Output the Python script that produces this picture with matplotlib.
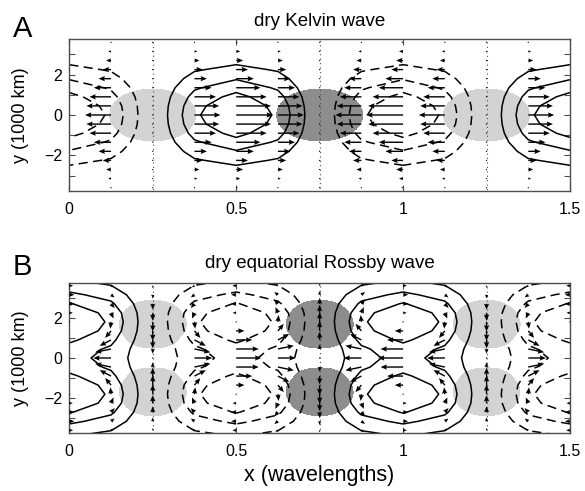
import numpy as np
import matplotlib
matplotlib.use("Agg")
import matplotlib.pyplot as plt
import matplotlib.tri as mtri

plt.rcParams["font.family"] = ["Liberation Sans", "DejaVu Sans"]

# grid nodes: x in wavelengths, y in 1000 km
x_nodes = [0, 0.125, 0.25, 0.375, 0.5, 0.625, 0.75, 0.875, 1.0, 1.125, 1.25, 1.375, 1.5]
y_nodes = [-4.05, -3.6, -3.15, -2.7, -2.25, -1.8, -1.35, -0.9, -0.45, 0,
           0.45, 0.9, 1.35, 1.8, 2.25, 2.7, 3.15, 3.6, 4.05]

# zonal phase of the wave at the x nodes
phase_cos = [1, 0.707, 0, -0.707, -1, -0.707, 0, 0.707, 1, 0.707, 0, -0.707, -1]
phase_sin = [0, 0.707, 1, 0.707, 0, -0.707, -1, -0.707, 0, 0.707, 1, 0.707, 0]

# meridional structures (one value per y node)
kelvin_p = [0.025, 0.05, 0.11, 0.19, 0.32, 0.48, 0.66, 0.83, 0.95, 1.0,
            0.95, 0.83, 0.66, 0.48, 0.32, 0.19, 0.11, 0.05, 0.025]
rossby_p = [0.21, 0.36, 0.56, 0.77, 0.94, 1.0, 0.94, 0.80, 0.65, 0.59,
            0.65, 0.80, 0.94, 1.0, 0.94, 0.77, 0.56, 0.36, 0.21]
rossby_u = [0.09, 0.15, 0.20, 0.21, 0.14, -0.04, -0.33, -0.64, -0.90, -1.0,
            -0.90, -0.64, -0.33, -0.04, 0.14, 0.21, 0.20, 0.15, 0.09]
rossby_v = [-0.12, -0.22, -0.38, -0.59, -0.80, -0.96, -0.99, -0.83, -0.47, 0,
            0.47, 0.83, 0.99, 0.96, 0.80, 0.59, 0.38, 0.22, 0.12]
rossby_div = [0.43, 0.57, 0.72, 0.86, 0.95, 1.0, 0.98, 0.91, 0.79, 0.64,
              0.79, 0.91, 0.98, 1.0, 0.95, 0.86, 0.72, 0.57, 0.43]

LIGHT = "#d3d3d3"
DARK = "#8d8d8d"


def grid_triangulation():
    X, Y = np.meshgrid(x_nodes, y_nodes)
    nx = len(x_nodes)
    tris = []
    for j in range(len(y_nodes) - 1):
        for i in range(nx - 1):
            a = j * nx + i
            tris.append([a, a + 1, a + nx + 1])
            tris.append([a, a + nx + 1, a + nx])
    return mtri.Triangulation(X.ravel(), Y.ravel(), tris)


def draw_panel(ax, p, u, v, shade, thr, u_len, v_len):
    X, Y = np.meshgrid(x_nodes, y_nodes)

    # shaded convergence / divergence areas
    refiner = mtri.UniformTriRefiner(grid_triangulation())
    tri_f, s_f = refiner.refine_field(shade.ravel(), subdiv=3)
    ax.tricontourf(tri_f, s_f, levels=[thr, 10], colors=[LIGHT])
    ax.tricontourf(tri_f, s_f, levels=[-10, -thr], colors=[DARK])

    # pressure contours
    ax.contour(X, Y, p, levels=[0.25, 0.5, 0.75], colors="k",
               linewidths=1.1, linestyles="solid")
    ax.contour(X, Y, p, levels=[-0.75, -0.5, -0.25], colors="k",
               linewidths=1.1, linestyles=[(0, (6, 3.5))])
    ax.contour(X, Y, p, levels=[0], colors="0.3",
               linewidths=0.8, linestyles=[(0, (1, 3))])

    # wind arrows
    ax.quiver(X, Y, u * u_len, v * v_len, angles="xy", scale_units="xy", scale=1,
              width=0.0028, headwidth=3.8, headlength=4.5, headaxislength=4,
              color="k", zorder=3)

    ax.set_xlim(0, 1.5)
    ax.set_ylim(-3.75, 3.75)
    ax.set_xticks([0, 0.5, 1, 1.5])
    ax.set_xticklabels(["0", "0.5", "1", "1.5"])
    ax.set_yticks([-3, -2, -1, 0, 1, 2, 3])
    ax.set_yticklabels(["", "\u22122", "", "0", "", "2", ""])
    ax.tick_params(direction="in", top=True, right=True, length=4, width=0.8,
                   labelsize=11.5, color="0.3")
    ax.tick_params(axis="x", pad=8)
    ax.tick_params(axis="y", pad=5)
    for s in ax.spines.values():
        s.set_linewidth(1.0)
        s.set_color("0.3")


fig = plt.figure(figsize=(5.85, 4.91), dpi=100)
ax_a = fig.add_axes([69.3 / 585, 1 - 190.7 / 491, 500.7 / 585, 151.4 / 491])
ax_b = fig.add_axes([69.3 / 585, 1 - 433.3 / 491, 500.7 / 585, 150.6 / 491])

cosx = np.array(phase_cos)
sinx = np.array(phase_sin)

# A: Kelvin wave, u in phase with pressure, no v
kp = -np.outer(kelvin_p, cosx)
draw_panel(ax_a, kp, kp, np.zeros_like(kp), np.outer(kelvin_p, sinx),
           0.69, 0.11, 0.5)

# B: equatorial Rossby wave
rp = np.outer(rossby_p, cosx)
ru = np.outer(rossby_u, cosx)
rv = -np.outer(rossby_v, sinx)
draw_panel(ax_b, rp, ru, rv, np.outer(rossby_div, sinx), 0.81, 0.075, 0.5)

ax_a.text(0.5, 1.088, "dry Kelvin wave", transform=ax_a.transAxes,
          ha="center", va="baseline", fontsize=13.5)
ax_b.text(0.5, 1.095, "dry equatorial Rossby wave", transform=ax_b.transAxes,
          ha="center", va="baseline", fontsize=13.5)

fig.text(13 / 585, 1 - 37 / 491, "A", fontsize=21, ha="left", va="baseline")
fig.text(13 / 585, 1 - 275 / 491, "B", fontsize=21, ha="left", va="baseline")

fig.text(21 / 585, 1 - 115 / 491, "y (1000 km)", rotation=90,
         ha="center", va="center", fontsize=13)
fig.text(21 / 585, 1 - 358 / 491, "y (1000 km)", rotation=90,
         ha="center", va="center", fontsize=13)
fig.text(319.5 / 585, 1 - 475 / 491, "x (wavelengths)",
         ha="center", va="center", fontsize=15.5)

fig.savefig("out.png", dpi=100)
